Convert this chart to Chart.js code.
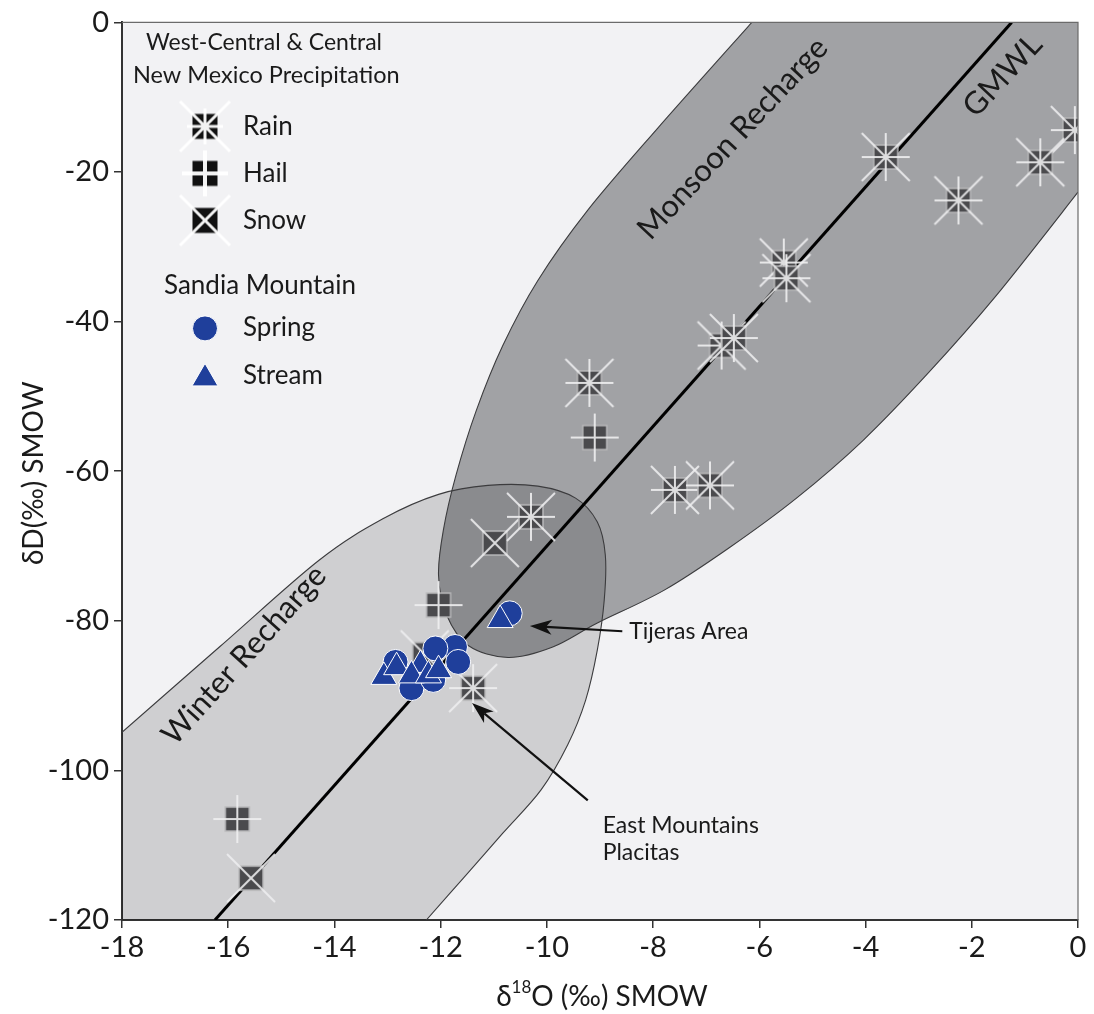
<!DOCTYPE html>
<html>
<head>
<meta charset="utf-8">
<script src="https://cdn.jsdelivr.net/npm/chart.js@4.4.1/dist/chart.umd.min.js"></script>
<style>
  html, body { margin: 0; padding: 0; background: #fff; }
  #wrap { width: 1094px; height: 1014px; }
</style>
</head>
<body>
<div id="wrap"><canvas id="chart" width="1094" height="1014"></canvas></div>
<script>
// Precipitation samples, West-Central & Central New Mexico (δ18O, δD in ‰ SMOW)
const rainO = [-0.06, -0.71, -2.25, -3.62, -5.54, -5.49, -6.71, -6.48, -9.20, -7.59, -6.93, -10.30, -11.39];
const rainD = [-14.4, -18.7, -23.8, -18.0, -32.1, -34.2, -43.2, -42.2, -48.2, -62.5, -61.9, -66.1, -89.0];
const hailO = [-9.10, -12.04, -15.83];
const hailD = [-55.5, -77.9, -106.5];
const snowO = [-10.98, -12.30, -15.57];
const snowD = [-69.6, -84.5, -114.4];

// Sandia Mountain waters
const springO = [-11.73, -11.67, -12.10, -12.85, -12.55, -12.14, -10.70];
const springD = [-83.5, -85.5, -83.7, -85.5, -89.0, -87.9, -79.0];
const streamO = [-13.07, -12.83, -12.38, -12.55, -12.23, -12.04, -10.88];
const streamD = [-87.5, -86.2, -85.9, -87.3, -87.3, -86.6, -79.9];

// Global meteoric water line end points
const gmwlO = [-16.25, -1.25];
const gmwlD = [-120, 0];

// Recharge envelopes (outline traced along the curved edge)
const monsoonO = [-6.14, -7.92, -9.23, -10.17, -10.83, -11.33, -11.71, -11.95, -12.04, -11.89, -11.48, -10.73, -9.89, -9.05, -7.79, -6.56, -5.30, -4.05, -2.81, -1.56, 0.0];
const monsoonD = [0, -14.2, -25.1, -34.5, -43.2, -51.9, -60.5, -67.9, -73.9, -79.2, -83.3, -84.9, -83.5, -80.3, -75.9, -70.2, -63.6, -55.9, -46.8, -36.7, -22.7];
const winterO = [-18, -16.15, -14.29, -13.07, -12.04, -11.11, -10.17, -9.46, -9.05, -8.90, -8.92, -9.05, -9.27, -9.61, -10.11, -10.83, -11.56, -12.27];
const winterD = [-94.9, -83.4, -71.9, -66.3, -63.1, -61.9, -62.0, -63.6, -66.8, -71.2, -77.2, -83.9, -90.6, -96.6, -102.6, -108.4, -114.3, -120];

const xTicks = [-18, -16, -14, -12, -10, -8, -6, -4, -2, 0];
const yTicks = [0, -20, -40, -60, -80, -100, -120];

const FONT = 'Lato, "Open Sans", sans-serif';
const BLUE = '#1f3f9b';

const pairs = (xs, ys) => xs.map((x, i) => ({ x: x, y: ys[i] }));

// marker images: dark square with pale cross / saltire strokes
function makeMarker(opts) {
  const s = opts.size, c = document.createElement('canvas');
  c.width = s; c.height = s;
  const g = c.getContext('2d'), m = s / 2, h = opts.box / 2, a = opts.arm;
  g.fillStyle = opts.fill;
  g.fillRect(m - h, m - h, opts.box, opts.box);
  if (opts.edge) {
    g.strokeStyle = opts.edge; g.lineWidth = 1.5;
    g.strokeRect(m - h, m - h, opts.box, opts.box);
  }
  g.strokeStyle = opts.line; g.lineWidth = opts.lw; g.lineCap = 'butt';
  g.beginPath();
  if (opts.x) {
    g.moveTo(m - a, m - a); g.lineTo(m + a, m + a);
    g.moveTo(m + a, m - a); g.lineTo(m - a, m + a);
  }
  if (opts.plus) {
    const p = opts.plusArm || a;
    g.moveTo(m, m - p); g.lineTo(m, m + p);
    g.moveTo(m - p, m); g.lineTo(m + p, m);
  }
  g.stroke();
  return c;
}

const dataStyle = { size: 52, box: 24, arm: 24, fill: '#4a4a4d', edge: '#b9b9bb', line: 'rgba(238,238,240,0.9)', lw: 2 };
const rainImg = makeMarker(Object.assign({}, dataStyle, { x: true, plus: true }));
const hailImg = makeMarker(Object.assign({}, dataStyle, { plus: true }));
const snowImg = makeMarker(Object.assign({}, dataStyle, { x: true }));

const keyStyle = { size: 54, box: 25, arm: 25, fill: '#111', line: 'rgba(255,255,255,0.95)', lw: 3 };
const rainKey = makeMarker(Object.assign({}, keyStyle, { x: true, plus: true, plusArm: 18 }));
const hailKey = makeMarker(Object.assign({}, keyStyle, { plus: true, plusArm: 23, lw: 4 }));
const snowKey = makeMarker(Object.assign({}, keyStyle, { x: true }));

function smoothTrace(ctx, pts) {
  ctx.lineTo(pts[0][0], pts[0][1]);
  for (let i = 0; i < pts.length - 1; i++) {
    const p0 = pts[Math.max(i - 1, 0)], p1 = pts[i], p2 = pts[i + 1], p3 = pts[Math.min(i + 2, pts.length - 1)];
    ctx.bezierCurveTo(p1[0] + (p2[0] - p0[0]) / 6, p1[1] + (p2[1] - p0[1]) / 6,
                      p2[0] - (p3[0] - p1[0]) / 6, p2[1] - (p3[1] - p1[1]) / 6, p2[0], p2[1]);
  }
}

function arrow(ctx, x0, y0, x1, y1) {
  const ang = Math.atan2(y1 - y0, x1 - x0), L = 22, W = 7.5;
  const bx = x1 - Math.cos(ang) * L, by = y1 - Math.sin(ang) * L;
  ctx.strokeStyle = '#111'; ctx.lineWidth = 2.2;
  ctx.beginPath(); ctx.moveTo(x0, y0); ctx.lineTo(bx + Math.cos(ang) * 6, by + Math.sin(ang) * 6); ctx.stroke();
  ctx.fillStyle = '#111';
  ctx.beginPath();
  ctx.moveTo(x1, y1);
  ctx.lineTo(bx - Math.sin(ang) * W, by + Math.cos(ang) * W);
  ctx.lineTo(bx + Math.cos(ang) * 6, by + Math.sin(ang) * 6);
  ctx.lineTo(bx + Math.sin(ang) * W, by - Math.cos(ang) * W);
  ctx.closePath(); ctx.fill();
}

const envelopes = {
  id: 'envelopes',
  beforeDraw(chart) {
    const { ctx, chartArea: a } = chart;
    ctx.save();
    ctx.fillStyle = '#f2f2f4';
    ctx.fillRect(a.left, a.top, a.width, a.height);
    ctx.restore();
  },
  beforeDatasetsDraw(chart) {
    const { ctx, chartArea: a, scales: { x, y } } = chart;
    const P = (o, d) => [x.getPixelForValue(o), y.getPixelForValue(d)];
    const winter = winterO.map((o, i) => P(o, winterD[i]));
    const monsoon = monsoonO.map((o, i) => P(o, monsoonD[i]));
    const winterPath = () => {
      ctx.beginPath(); const c = P(-18, -120); ctx.moveTo(c[0], c[1]);
      smoothTrace(ctx, winter); ctx.closePath();
    };
    const monsoonPath = () => {
      ctx.beginPath(); const c = P(0, 0); ctx.moveTo(c[0], c[1]);
      smoothTrace(ctx, monsoon); ctx.closePath();
    };
    ctx.save();
    ctx.beginPath(); ctx.rect(a.left, a.top, a.width, a.height); ctx.clip();
    ctx.globalCompositeOperation = 'multiply';
    winterPath(); ctx.fillStyle = 'rgb(218,218,219)'; ctx.fill();
    monsoonPath(); ctx.fillStyle = 'rgb(170,171,173)'; ctx.fill();
    ctx.globalCompositeOperation = 'source-over';
    ctx.strokeStyle = '#3c3c3e'; ctx.lineWidth = 1.1;
    ctx.beginPath(); ctx.moveTo(winter[0][0], winter[0][1]); smoothTrace(ctx, winter); ctx.stroke();
    ctx.beginPath(); ctx.moveTo(monsoon[0][0], monsoon[0][1]); smoothTrace(ctx, monsoon); ctx.stroke();

    // envelope and line names
    ctx.fillStyle = '#1a1a1a';
    ctx.textAlign = 'center'; ctx.textBaseline = 'middle';
    const names = [['Monsoon Recharge', -6.50, -15.5, -47], ['GMWL', -1.42, -7.1, -47], ['Winter Recharge', -15.70, -84.6, -48]];
    ctx.font = '31px ' + FONT;
    names.forEach(([t, o, d, r]) => {
      const p = P(o, d);
      ctx.save(); ctx.translate(p[0], p[1]); ctx.rotate(r * Math.PI / 180);
      ctx.fillText(t, 0, 0); ctx.restore();
    });
    ctx.restore();
  },
  afterDatasetsDraw(chart) {
    const { ctx, chartArea: a, scales: { x, y } } = chart;
    const P = (o, d) => [x.getPixelForValue(o), y.getPixelForValue(d)];
    ctx.save();

    // plot frame: thin top and right edges
    ctx.strokeStyle = '#6b6b6b'; ctx.lineWidth = 1.2;
    ctx.beginPath();
    ctx.moveTo(a.left, a.top); ctx.lineTo(a.right, a.top); ctx.lineTo(a.right, a.bottom);
    ctx.stroke();

    // callouts
    let t = P(-8.58, -81.4), h = P(-10.32, -80.7);
    arrow(ctx, t[0], t[1], h[0], h[1]);
    t = P(-9.23, -104.0); h = P(-11.41, -91.0);
    arrow(ctx, t[0], t[1], h[0], h[1]);
    ctx.fillStyle = '#1a1a1a'; ctx.font = '23px ' + FONT;
    ctx.textAlign = 'left'; ctx.textBaseline = 'middle';
    let p = P(-8.45, -81.5); ctx.fillText('Tijeras Area', p[0], p[1]);
    p = P(-8.95, -107.4); ctx.fillText('East Mountains', p[0], p[1]);
    p = P(-8.95, -111.0); ctx.fillText('Placitas', p[0], p[1]);

    // key
    const L = a.left, T = a.top;
    ctx.font = '23px ' + FONT;
    ctx.fillText('West-Central & Central', L + 24, T + 20);
    ctx.font = '23.5px ' + FONT;
    ctx.fillText('New Mexico Precipitation', L + 11, T + 53);
    ctx.font = '26px ' + FONT;
    ctx.fillText('Sandia Mountain', L + 42, T + 263);
    ctx.font = '26px ' + FONT;
    const rows = [[rainKey, 'Rain', 104], [hailKey, 'Hail', 151], [snowKey, 'Snow', 198]];
    rows.forEach(([img, label, dy]) => {
      ctx.drawImage(img, L + 83 - img.width / 2, T + dy - img.height / 2);
      ctx.fillText(label, L + 121, T + dy);
    });
    ctx.fillStyle = BLUE; ctx.strokeStyle = '#fff'; ctx.lineWidth = 1;
    Chart.helpers.drawPoint(ctx, { pointStyle: 'circle', radius: 12.5, borderWidth: 1 }, L + 83, T + 306);
    Chart.helpers.drawPoint(ctx, { pointStyle: 'triangle', radius: 15, borderWidth: 1 }, L + 83, T + 356);
    ctx.fillStyle = '#1a1a1a';
    ctx.fillText('Spring', L + 121, T + 305);
    ctx.fillText('Stream', L + 121, T + 353);

    // axis titles
    ctx.font = '28px ' + FONT;
    ctx.textAlign = 'center';
    ctx.save();
    ctx.translate(34, (a.top + a.bottom) / 2 + 2);
    ctx.rotate(-Math.PI / 2);
    ctx.fillText('\u03B4D(\u2030) SMOW', 0, 0);
    ctx.restore();
    const parts = [['\u03B4', 28, 0], ['18', 17, -9], ['O (\u2030) SMOW', 28, 0]];
    let w = 0;
    parts.forEach(([s, f]) => { ctx.font = f + 'px ' + FONT; w += ctx.measureText(s).width; });
    let cx = (a.left + a.right) / 2 - w / 2 + 2;
    ctx.textAlign = 'left';
    parts.forEach(([s, f, off]) => {
      ctx.font = f + 'px ' + FONT;
      ctx.fillText(s, cx, 997 + off);
      cx += ctx.measureText(s).width;
    });
    ctx.restore();
  }
};

new Chart(document.getElementById('chart'), {
  type: 'scatter',
  data: {
    datasets: [
      {
        label: 'Stream',
        data: pairs(streamO, streamD),
        pointStyle: 'triangle',
        pointRadius: 15,
        backgroundColor: BLUE,
        borderColor: '#ffffff',
        borderWidth: 1,
        order: 1
      },
      {
        label: 'Spring',
        data: pairs(springO, springD),
        pointStyle: 'circle',
        pointRadius: 12.5,
        backgroundColor: BLUE,
        borderColor: '#ffffff',
        borderWidth: 1,
        order: 2
      },
      {
        label: 'Rain',
        data: pairs(rainO, rainD),
        pointStyle: rainImg,
        pointRadius: 12,
        order: 3
      },
      {
        label: 'Hail',
        data: pairs(hailO, hailD),
        pointStyle: hailImg,
        pointRadius: 12,
        order: 4
      },
      {
        label: 'Snow',
        data: pairs(snowO, snowD),
        pointStyle: snowImg,
        pointRadius: 12,
        order: 5
      },
      {
        label: 'GMWL',
        type: 'line',
        data: pairs(gmwlO, gmwlD),
        borderColor: '#000',
        borderWidth: 3,
        pointRadius: 0,
        fill: false,
        order: 6
      }
    ]
  },
  options: {
    responsive: false,
    animation: false,
    events: [],
    layout: { padding: { top: 22, right: 11, left: 0, bottom: 0 } },
    plugins: { legend: { display: false }, tooltip: { enabled: false } },
    scales: {
      x: {
        type: 'linear',
        min: -18,
        max: 0,
        afterFit: s => { s.height = 94; },
        afterBuildTicks: s => { s.ticks = xTicks.map(v => ({ value: v })); },
        border: { display: true, color: '#333', width: 2 },
        grid: { drawOnChartArea: false, drawTicks: true, tickLength: 8, color: '#333', lineWidth: 1.5 },
        ticks: { color: '#1a1a1a', font: { family: FONT, size: 29 }, padding: 2, maxRotation: 0 }
      },
      y: {
        type: 'linear',
        min: -120,
        max: 0,
        afterFit: s => { s.width = 122; },
        afterBuildTicks: s => { s.ticks = yTicks.map(v => ({ value: v })); },
        border: { display: true, color: '#333', width: 2 },
        grid: { drawOnChartArea: false, drawTicks: true, tickLength: 8, color: '#333', lineWidth: 1.5 },
        ticks: { color: '#1a1a1a', font: { family: FONT, size: 29 }, padding: 5 }
      }
    }
  },
  plugins: [envelopes]
});
</script>
</body>
</html>
